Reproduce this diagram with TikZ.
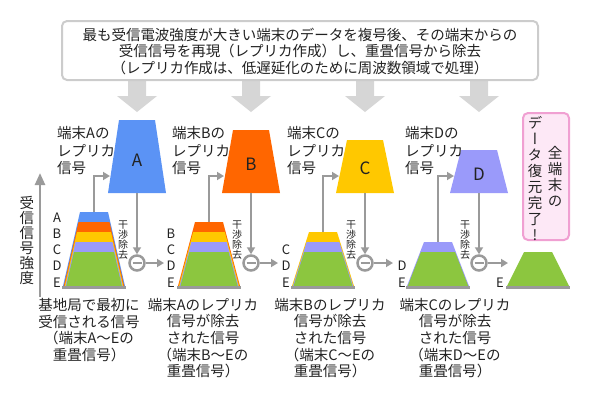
\documentclass[tikz,border=0pt]{standalone}
\usepackage{fontspec}
\usepackage{graphicx}
\setmainfont{Noto Sans CJK JP}
\newfontfamily\vfont[RawFeature=+vert]{Noto Sans CJK JP}
\usetikzlibrary{arrows.meta}
\definecolor{cA}{HTML}{5B93F5}
\definecolor{cB}{HTML}{FF6600}
\definecolor{cC}{HTML}{FFC800}
\definecolor{cD}{HTML}{9A9AFA}
\definecolor{cE}{HTML}{8CC63F}
\definecolor{lg}{HTML}{9A9A9A}
\definecolor{arr}{HTML}{D6D6D6}
\definecolor{boxln}{HTML}{CCCCCC}
\definecolor{pinkln}{HTML}{F0A0D2}
\definecolor{pinkfill}{HTML}{FDE8F6}
\definecolor{tc}{HTML}{222222}

\newcommand\stacklayer[5]{%
  \pgfmathsetmacro\slfrac{(#3-#2)/(286-#2)}%
  \pgfmathsetmacro\slhw{14+17*\slfrac-#4}%
  \pgfmathsetmacro\slbw{31-#4}%
  \fill[#5] (#1-\slhw,#3) -- (#1+\slhw,#3) -- (#1+\slbw,286) -- (#1-\slbw,286) -- cycle;}
\newcommand\stackbase[1]{\draw[lg, line width=2.5pt] (#1-32,287.5) -- (#1+32,287.5);}
\newcommand\blockarrow[1]{%
  \fill[arr] (#1-9,80) -- (#1+9,80) -- (#1+9,96) -- (#1+20,96) -- (#1,112) -- (#1-20,96) -- (#1-9,96) -- cycle;}

\begin{document}
\begin{tikzpicture}[x=1pt,y=-1pt,
  conn/.style={draw=lg, line width=2.5pt, -{Triangle[length=7pt,width=8pt]}},
  captxt/.style={inner sep=0pt, text=tc, align=center, font=\fontsize{14.5}{16.6}\selectfont},
  lbl/.style={inner sep=0pt, text=tc, align=left, font=\fontsize{14.5}{17.5}\selectfont, anchor=west},
  lettertxt/.style={inner sep=0pt, text=tc, font=\fontsize{13}{13}\selectfont},
  bigl/.style={inner sep=0pt, text=tc, font=\fontsize{17}{17}\selectfont},
  smalltxt/.style={inner sep=0pt, text=tc, align=center, font=\fontsize{10}{10}\selectfont},
  minuscirc/.style={circle, draw=lg, line width=2.5pt, fill=white, minimum size=15pt, inner sep=0pt}]
\useasboundingbox (0,0) rectangle (590,400);

% block arrows and top box
\blockarrow{137}\blockarrow{251}\blockarrow{365}\blockarrow{479}
\draw[boxln, line width=2pt, fill=white, rounded corners=5pt] (62,21) rectangle (538,80);
\node[captxt, font=\fontsize{14.5}{16.5}\selectfont] (top) at (300,51.5)
  {最も受信電波強度が大きい端末のデータを複号後、その端末からの\\
   受信信号を再現（レプリカ作成）し、重畳信号から除去\\
   （レプリカ作成は、低遅延化のために周波数領域で処理）};

% replica trapezoids
\fill[cA] (119,120) -- (155,120) -- (166,193) -- (108,193) -- cycle;
\fill[cB] (233,130) -- (269,130) -- (280,193) -- (222,193) -- cycle;
\fill[cC] (347,140) -- (383,140) -- (394,193) -- (336,193) -- cycle;
\fill[cD] (461,150) -- (497,150) -- (508,193) -- (450,193) -- cycle;
\node[bigl] (lA) at (137,160) {A};
\node[bigl] (lB) at (251,164) {B};
\node[bigl] (lC) at (365,168) {C};
\node[bigl] (lD) at (479,174) {D};

% replica labels
\node[lbl] (labA) at (57,150.5) {端末Aの\\レプリカ\\信号};
\node[lbl] (labB) at (172,150.5) {端末Bの\\レプリカ\\信号};
\node[lbl] (labC) at (287,150.5) {端末Cの\\レプリカ\\信号};
\node[lbl] (labD) at (405,150.5) {端末Dの\\レプリカ\\信号};

% stacks
\stacklayer{94}{212}{212}{0}{cA}
\stacklayer{94}{212}{222}{0.8}{cB}
\stacklayer{94}{212}{232}{1.6}{cC}
\stacklayer{94}{212}{242}{2.4}{cD}
\stacklayer{94}{212}{252}{3.2}{cE}
\stackbase{94}
\stacklayer{209}{222}{222}{0}{cB}
\stacklayer{209}{222}{232}{0.8}{cC}
\stacklayer{209}{222}{242}{1.6}{cD}
\stacklayer{209}{222}{252}{2.4}{cE}
\stackbase{209}
\stacklayer{323}{232}{232}{0}{cC}
\stacklayer{323}{232}{242}{0.8}{cD}
\stacklayer{323}{232}{252}{1.6}{cE}
\stackbase{323}
\stacklayer{438}{242}{242}{0}{cD}
\stacklayer{438}{242}{252}{0.8}{cE}
\stackbase{438}
\stacklayer{538}{252}{252}{0}{cE}
\stackbase{538}

% stack letters
\node[lettertxt] (a1) at (57,218) {A};
\node[lettertxt] (b1) at (57,234) {B};
\node[lettertxt] (c1) at (57,250) {C};
\node[lettertxt] (d1) at (57,266) {D};
\node[lettertxt] (e1) at (57,283) {E};
\node[lettertxt] (b2) at (171,234) {B};
\node[lettertxt] (c2) at (171,250) {C};
\node[lettertxt] (d2) at (171,266) {D};
\node[lettertxt] (e2) at (171,283) {E};
\node[lettertxt] (c3) at (286,250) {C};
\node[lettertxt] (d3) at (286,266) {D};
\node[lettertxt] (e3) at (286,283) {E};
\node[lettertxt] (d4) at (402,266) {D};
\node[lettertxt] (e4) at (402,283) {E};
\node[lettertxt] (e5) at (500,283) {E};

% connectors up to replicas
\coordinate (sA) at (94,212);  \coordinate (tA) at (110,176);
\coordinate (sB) at (209,222); \coordinate (tB) at (224,176);
\coordinate (sC) at (323,232); \coordinate (tC) at (339,176);
\coordinate (sD) at (438,242); \coordinate (tD) at (454,176);
\draw[conn] (sA) |- (tA);
\draw[conn] (sB) |- (tB);
\draw[conn] (sC) |- (tC);
\draw[conn] (sD) |- (tD);

% subtraction circles
\foreach \cx/\nm/\ex in {137/A/164, 251/B/278, 365/C/393, 479/D/508} {
  \coordinate (bot\nm) at (\cx,193);
  \node[minuscirc] (m\nm) at (\cx,263) {};
  \draw[lg, line width=2pt] ([xshift=-4.5pt]m\nm.center) -- ([xshift=4.5pt]m\nm.center);
  \coordinate (out\nm) at (\ex,263);
  \draw[conn] (bot\nm) -- (m\nm.north);
  \draw[conn] (m\nm.east) -- (out\nm);
  \node[smalltxt] (k\nm) at (\cx-14,240.5) {干\\渉\\除\\去};
}

% axis
\coordinate (axb) at (40,297);
\coordinate (axt) at (40,173);
\draw[draw=lg, line width=2.5pt, -{Triangle[length=12pt,width=10pt]}] (axb) -- (axt);
\node[captxt, font=\fontsize{14.5}{15}\selectfont] (axl) at (27,240.5) {受\\信\\信\\号\\強\\度};

% pink box
\draw[pinkln, line width=2pt, fill=pinkfill, rounded corners=5pt] (523,113) rectangle (569,240);
\node[captxt, font=\vfont\fontsize{14.5}{16}\selectfont] (done1) at (555,176) {全\\端\\末\\の};
\node[captxt, font=\vfont\fontsize{14.5}{16}\selectfont] (done2) at (535,179) {デ\\ー\\タ\\復\\元\\完\\了\\!};

% captions
\node[captxt] (cap1) at (89,330) {基地局で最初に\\受信される信号\\（端末A〜Eの\\重畳信号）};
\node[captxt] (cap2) at (203,338) {端末Aのレプリカ\\信号が除去\\された信号\\（端末B〜Eの\\重畳信号）};
\node[captxt] (cap3) at (330,338) {端末Bのレプリカ\\信号が除去\\された信号\\（端末C〜Eの\\重畳信号）};
\node[captxt] (cap4) at (455,338) {端末Cのレプリカ\\信号が除去\\された信号\\（端末D〜Eの\\重畳信号）};
\end{tikzpicture}
\end{document}
